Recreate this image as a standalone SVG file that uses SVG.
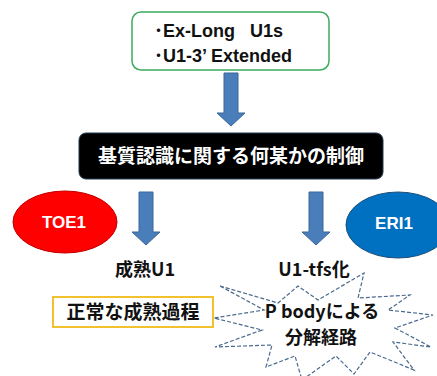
<svg xmlns="http://www.w3.org/2000/svg" width="437" height="376" viewBox="0 0 437 376">
<style>
.lat{font-family:"Liberation Sans",Arial,"Noto Sans CJK JP",sans-serif;font-weight:bold;}
.jp{font-family:"Noto Sans CJK JP","Liberation Sans",sans-serif;font-weight:bold;}
.arrow{fill:#4A7EBB;stroke:#3B6797;stroke-width:1;}
</style>
<defs>
<polygon id="arr" class="arrow" points="-7,0 7,0 7,40 14,40 0,53 -14,40 -7,40"/>
</defs>
<rect width="437" height="376" fill="#fff"/>
<g id="top-box">
<rect x="132" y="12" width="197" height="58" rx="9" fill="#fff" stroke="#3DAA5C" stroke-width="1.5"/>
<text class="lat" x="154" y="37" font-size="18" fill="#111" xml:space="preserve">･Ex-Long   U1s</text>
<text class="lat" x="154" y="62" font-size="18" fill="#111">･U1-3’ Extended</text>
</g>
<g id="connectors">
<use href="#arr" x="231" y="73"/>
<use href="#arr" transform="translate(146,192)"/>
<use href="#arr" transform="translate(316,192)"/>
</g>
<g id="control">
<rect x="79" y="133" width="304" height="46" rx="7" fill="#000" stroke="#24384e" stroke-width="1"/>
<text class="jp" x="231" y="163" font-size="19" fill="#fff" text-anchor="middle">基質認識に関する何某かの制御</text>
</g>
<g id="toe1">
<ellipse cx="65" cy="222" rx="52" ry="31" fill="#FF0000" stroke="#C00000" stroke-width="1"/>
<text class="lat" x="64" y="228" font-size="17" fill="#fff" text-anchor="middle">TOE1</text>
</g>
<g id="eri1">
<ellipse cx="398" cy="225" rx="52" ry="33" fill="#0070C0" stroke="#1F4E79" stroke-width="1"/>
<text class="lat" x="394" y="229" font-size="17" fill="#fff" text-anchor="middle">ERI1</text>
</g>
<g id="mature-u1">
<text class="jp" x="145" y="276" font-size="18" fill="#111" text-anchor="middle">成熟U1</text>
</g>
<g id="u1-tfs">
<text class="jp" x="314" y="276" font-size="18" fill="#111" text-anchor="middle">U1-tfs化</text>
</g>
<g id="normal">
<rect x="53" y="297" width="160" height="30" fill="#fff" stroke="#F2C12E" stroke-width="2"/>
<text class="jp" x="133" y="319" font-size="19" fill="#111" text-anchor="middle">正常な成熟過程</text>
</g>
<g id="pbody">
<polygon points="220,286 278,303 298,286 318,300 364,273 358,298 410,295 388,310 433,315 395,328 431,347 393,342 414,370 370,352 354,374 336,356 302,380 295,356 266,367 272,345 215,347 262,330 214,318 264,310" fill="#fff" stroke="#4A6A8E" stroke-width="1.2" stroke-dasharray="4,2"/>
<text class="jp" x="322" y="318" font-size="18" fill="#111" text-anchor="middle">P bodyによる</text>
<text class="jp" x="321" y="344" font-size="18" fill="#111" text-anchor="middle">分解経路</text>
</g>
</svg>
